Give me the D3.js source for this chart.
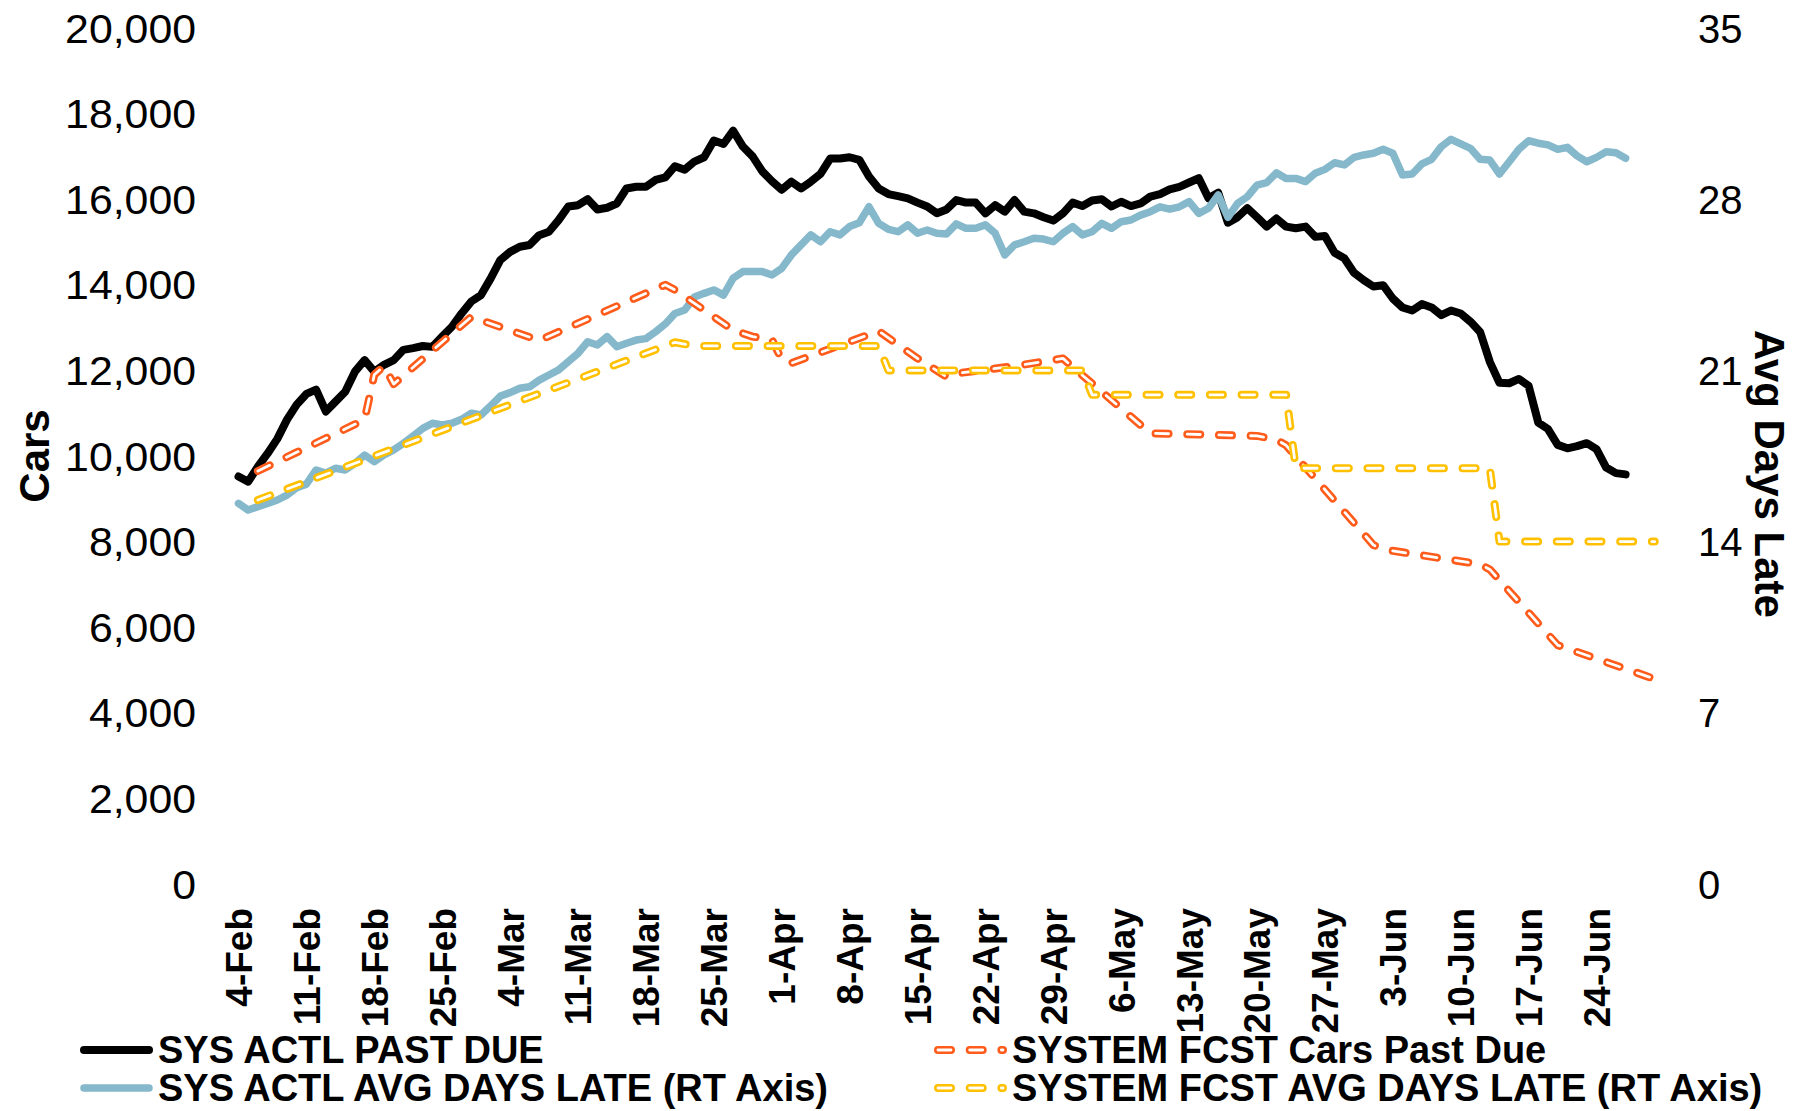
<!DOCTYPE html>
<html>
<head>
<meta charset="utf-8">
<script src="https://d3js.org/d3.v7.min.js"></script>
<style>
  body { margin: 0; background: #fff; }
  svg { display: block; font-family: "Liberation Sans", Arial, sans-serif; }
</style>
</head>
<body>
<script>
// daily actuals start on this date
var startDate = "2019-02-04";

var xTickLabels = ["4-Feb", "11-Feb", "18-Feb", "25-Feb", "4-Mar", "11-Mar", "18-Mar", "25-Mar",
    "1-Apr", "8-Apr", "15-Apr", "22-Apr", "29-Apr", "6-May", "13-May", "20-May", "27-May",
    "3-Jun", "10-Jun", "17-Jun", "24-Jun"];
var leftTicks = [0, 2000, 4000, 6000, 8000, 10000, 12000, 14000, 16000, 18000, 20000];
var rightTicks = [0, 7, 14, 21, 28, 35];

// SYS ACTL PAST DUE (cars, daily)
var actualPastDue = [9520, 9400, 9750, 10060, 10400, 10850, 11200, 11450, 11550, 11040,
    11270, 11500, 11970, 12240, 11970, 12130, 12240, 12480, 12520, 12570,
    12550, 12790, 13020, 13330, 13610, 13760, 14150, 14580, 14770, 14890,
    14930, 15160, 15240, 15510, 15830, 15860, 16000, 15760, 15800, 15900,
    16250, 16290, 16290, 16450, 16510, 16770, 16690, 16880, 16980, 17370,
    17290, 17600, 17230, 17000, 16650, 16420, 16220, 16410, 16250, 16410,
    16590, 16950, 16950, 16980, 16920, 16530, 16250, 16120, 16070, 16020,
    15920, 15830, 15670, 15760, 15980, 15920, 15920, 15670, 15860, 15710,
    15980, 15710, 15670, 15580, 15500, 15670, 15920, 15840, 15970, 16000,
    15830, 15940, 15840, 15900, 16060, 16120, 16230, 16290, 16390, 16490,
    16020, 16150, 15450, 15580, 15790, 15580, 15360, 15550, 15360, 15320,
    15360, 15120, 15140, 14750, 14620, 14280, 14110, 13960, 13990, 13680,
    13470, 13400, 13550, 13470, 13290, 13400, 13330, 13140, 12900, 12200,
    11710, 11700, 11800, 11640, 10780, 10630, 10260, 10180, 10230, 10300,
    10160, 9730, 9600, 9570];

// SYS ACTL AVG DAYS LATE (days, daily, right axis)
var actualDaysLate = [15.56, 15.29, 15.43, 15.56, 15.7, 15.9, 16.2, 16.35, 16.93, 16.8,
    17.0, 16.93, 17.2, 17.54, 17.27, 17.54, 17.75, 18.02, 18.32, 18.63,
    18.84, 18.77, 18.84, 19.0, 19.25, 19.18, 19.55, 19.95, 20.09, 20.27,
    20.33, 20.6, 20.81, 21.02, 21.36, 21.7, 22.17, 22.04, 22.38, 21.97,
    22.11, 22.24, 22.3, 22.58, 22.9, 23.33, 23.47, 24.0, 24.15, 24.29,
    24.08, 24.77, 25.04, 25.04, 25.04, 24.9, 25.17, 25.72, 26.13, 26.54,
    26.26, 26.67, 26.54, 26.88, 27.04, 27.69, 27.01, 26.77, 26.67, 26.95,
    26.61, 26.74, 26.61, 26.58, 26.99, 26.81, 26.81, 26.95, 26.61, 25.72,
    26.13, 26.26, 26.4, 26.37, 26.26, 26.61, 26.88, 26.54, 26.67, 27.01,
    26.81, 27.08, 27.15, 27.35, 27.49, 27.69, 27.59, 27.69, 27.9, 27.42,
    27.63, 28.17, 27.26, 27.83, 28.1, 28.58, 28.68, 29.08, 28.85, 28.85,
    28.72, 29.06, 29.22, 29.49, 29.4, 29.71, 29.81, 29.88, 30.04, 29.88,
    28.99, 29.03, 29.44, 29.63, 30.15, 30.45, 30.26, 30.08, 29.63, 29.6,
    29.03, 29.53, 30.04, 30.39, 30.29, 30.22, 30.04, 30.12, 29.77, 29.53,
    29.71, 29.94, 29.9, 29.67];

// SYSTEM FCST Cars Past Due (dates where the forecast line bends)
var fcstCarsDates = ["2019-02-06", "2019-02-17", "2019-02-18", "2019-02-19", "2019-02-20",
    "2019-02-28", "2019-03-07", "2019-03-20", "2019-03-21", "2019-03-27", "2019-03-29",
    "2019-03-31", "2019-04-01", "2019-04-02", "2019-04-11", "2019-04-15", "2019-04-18",
    "2019-04-19", "2019-04-25", "2019-04-30", "2019-05-01", "2019-05-09", "2019-05-20",
    "2019-05-22", "2019-05-23", "2019-06-01", "2019-06-02", "2019-06-12", "2019-06-13",
    "2019-06-20", "2019-06-30"];
var fcstCarsValues = [9650, 10850, 11900, 12100, 11680, 13250, 12700, 14000, 13880, 12940,
    12790, 12720, 12250, 12170, 12920, 12280, 11850, 11930, 12100, 12280, 12080, 10530,
    10470, 10380, 10250, 7920, 7820, 7470, 7350, 5580, 4790];

// SYSTEM FCST AVG DAYS LATE (right axis)
var fcstDaysDates = ["2019-02-06", "2019-03-21", "2019-03-23", "2019-04-11", "2019-04-12",
    "2019-05-02", "2019-05-03", "2019-05-23", "2019-05-24", "2019-06-13", "2019-06-14",
    "2019-06-30"];
var fcstDaysValues = [15.7, 22.15, 22.0, 22.0, 21.0, 21.0, 20.0, 20.0, 17.0, 17.0, 14.0, 14.0];

var legendNames = ["SYS ACTL PAST DUE", "SYS ACTL AVG DAYS LATE (RT Axis)",
    "SYSTEM FCST Cars Past Due", "SYSTEM FCST AVG DAYS LATE (RT Axis)"];
var legendColors = ["#000000", "#85b8cb", "#ff5b1a", "#ffc000"];

var parseDate = d3.utcParse("%Y-%m-%d");
var parseTick = d3.utcParse("%d-%b-%Y");
var start = parseDate(startDate);

var width = 1804, height = 1111;
var plotTop = 28, plotBottom = 884;
var x0 = 238.5, dayPx = 9.7;

var svg = d3.select("body").append("svg")
    .attr("width", width)
    .attr("height", height);

var xScale = d3.scaleUtc()
    .domain([start, d3.utcDay.offset(start, 146)])
    .range([x0, x0 + 146 * dayPx]);
var yLeft = d3.scaleLinear().domain([0, 20000]).range([plotBottom, plotTop]);
var yRight = d3.scaleLinear().domain([0, 35]).range([plotBottom, plotTop]);

var actualPD = actualPastDue.map(function (v, i) { return { date: d3.utcDay.offset(start, i), value: v }; });
var actualDL = actualDaysLate.map(function (v, i) { return { date: d3.utcDay.offset(start, i), value: v }; });
var fcstPD = fcstCarsDates.map(function (d, i) { return { date: parseDate(d), value: fcstCarsValues[i] }; });
var fcstDL = fcstDaysDates.map(function (d, i) { return { date: parseDate(d), value: fcstDaysValues[i] }; });

var lineLeft = d3.line()
    .x(function (d) { return xScale(d.date); })
    .y(function (d) { return yLeft(d.value); });
var lineRight = d3.line()
    .x(function (d) { return xScale(d.date); })
    .y(function (d) { return yRight(d.value); });

// axes
var leftAxis = svg.append("g")
    .attr("transform", "translate(196,0)")
    .call(d3.axisLeft(yLeft).tickValues(leftTicks).tickSize(0).tickPadding(0).tickFormat(d3.format(",")));
var rightAxis = svg.append("g")
    .attr("transform", "translate(1698,0)")
    .call(d3.axisRight(yRight).tickValues(rightTicks).tickSize(0).tickPadding(0));

[leftAxis, rightAxis].forEach(function (g) {
    g.select(".domain").remove();
    g.selectAll("text")
        .attr("font-family", "'Liberation Sans', Arial, sans-serif")
        .attr("font-size", 40)
        .attr("fill", "#000")
        .attr("dy", "0.35em");
});
// the left labels are drawn a little wider than the font
leftAxis.selectAll("text").each(function () {
    var len = this.getComputedTextLength();
    d3.select(this).attr("textLength", len * 1.07).attr("lengthAdjust", "spacingAndGlyphs");
});

var tickDates = xTickLabels.map(function (t) { return parseTick(t + "-2019"); });
var xAxis = svg.append("g")
    .attr("transform", "translate(0,908)")
    .call(d3.axisBottom(xScale).tickValues(tickDates).tickSize(0).tickPadding(0)
        .tickFormat(function (d, i) { return xTickLabels[i]; }));
xAxis.select(".domain").remove();
xAxis.selectAll("text")
    .attr("font-family", "'Liberation Sans', Arial, sans-serif")
    .attr("font-size", 37)
    .attr("font-weight", "bold")
    .attr("fill", "#000")
    .attr("x", 0)
    .attr("y", 0)
    .attr("dy", "0.35em")
    .attr("transform", "rotate(-90)")
    .style("text-anchor", "end");

// axis titles
svg.append("text")
    .attr("transform", "translate(34,456) rotate(-90)")
    .attr("dy", "0.35em")
    .attr("text-anchor", "middle")
    .attr("font-size", 42)
    .attr("font-weight", "bold")
    .text("Cars");
svg.append("text")
    .attr("transform", "translate(1770,474) rotate(90)")
    .attr("dy", "0.35em")
    .attr("text-anchor", "middle")
    .attr("font-size", 42)
    .attr("font-weight", "bold")
    .text("Avg Days Late");

// series
var plot = svg.append("g");

function solidPath(d, color, w) {
    plot.append("path")
        .attr("d", d)
        .attr("fill", "none")
        .attr("stroke", color)
        .attr("stroke-width", w)
        .attr("stroke-linejoin", "round")
        .attr("stroke-linecap", "round");
}

// hollow rounded dashes: coloured dash with a thin white core
function dashedPath(target, d, color) {
    target.append("path")
        .attr("d", d)
        .attr("fill", "none")
        .attr("stroke", color)
        .attr("stroke-width", 8)
        .attr("stroke-linejoin", "round")
        .attr("stroke-linecap", "round")
        .attr("stroke-dasharray", "13,18.7");
    target.append("path")
        .attr("d", d)
        .attr("fill", "none")
        .attr("stroke", "#fff")
        .attr("stroke-width", 2.8)
        .attr("stroke-linejoin", "round")
        .attr("stroke-linecap", "round")
        .attr("stroke-dasharray", "13,18.7");
}

solidPath(lineLeft(actualPD), legendColors[0], 8);
solidPath(lineRight(actualDL), legendColors[1], 7.5);
dashedPath(plot, lineLeft(fcstPD), legendColors[2]);
dashedPath(plot, lineRight(fcstDL), legendColors[3]);

// legend
var legendPos = [
    { x: 80, y: 1050 },
    { x: 80, y: 1088 },
    { x: 934, y: 1050 },
    { x: 934, y: 1088 }
];
var legend = svg.append("g");
legendNames.forEach(function (name, i) {
    var p = legendPos[i];
    if (i < 2) {
        legend.append("line")
            .attr("x1", p.x + 4).attr("x2", p.x + 69)
            .attr("y1", p.y).attr("y2", p.y)
            .attr("stroke", legendColors[i])
            .attr("stroke-width", i == 0 ? 8 : 7.5)
            .attr("stroke-linecap", "round");
    } else {
        dashedPath(legend, "M" + (p.x + 4) + "," + p.y + "H" + (p.x + 69), legendColors[i]);
    }
    legend.append("text")
        .attr("x", p.x + 78)
        .attr("y", p.y)
        .attr("dy", "0.35em")
        .attr("font-size", 38)
        .attr("font-weight", "bold")
        .text(name);
});
</script>
</body>
</html>
